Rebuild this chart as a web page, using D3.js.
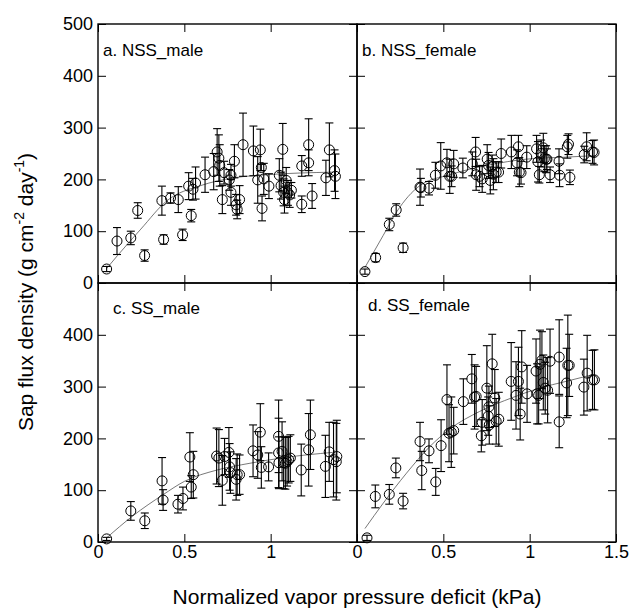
<!DOCTYPE html>
<html>
<head>
<meta charset="utf-8">
<script src="https://cdn.jsdelivr.net/npm/d3@7"></script>
<style>
  body { margin: 0; background: #fff; }
  svg { display: block; font-family: "Liberation Sans", Arial, Helvetica, sans-serif; }
</style>
</head>
<body>
<svg id="drawing_region"></svg>
<script>
// ticks
const xTicks = [0, 0.5, 1, 1.5];
const yTicks = [0, 100, 200, 300, 400, 500];

// panel names
const panelNames = ["a. NSS_male", "b. NSS_female", "c. SS_male", "d. SS_female"];

// [vpd, sap flux, sd]
const nssMale = [
    [0.05,27,5],[0.11,81,26],[0.19,87,13],[0.23,140,15],[0.27,53,11],[0.37,159,28],
    [0.38,84,9],[0.42,164,10],[0.465,161,25],[0.49,93,11],[0.525,187,26],[0.54,130,12],
    [0.55,181,21],[0.565,193,31],[0.62,209,34],[0.67,215,35],[0.69,253,45],[0.70,241,45],
    [0.705,227,40],[0.72,161,27],[0.73,213,22],[0.76,199,20],[0.77,208,21],[0.77,175,25],
    [0.79,235,32],[0.80,151,20],[0.806,142,18],[0.82,161,27],[0.84,267,61],[0.90,255,48],
    [0.925,199,45],[0.94,257,40],[0.946,223,6],[0.95,144,24],[0.96,201,30],[0.99,187,24],
    [1.05,208,32],[1.06,188,26],[1.07,258,50],[1.075,175,26],[1.08,161,26],[1.09,198,25],
    [1.10,174,24],[1.11,170,24],[1.12,179,15],[1.18,226,20],[1.18,152,16],[1.22,267,50],
    [1.22,232,25],[1.24,168,24],[1.32,203,34],[1.34,257,52],[1.37,217,40],[1.375,206,43]
];
const nssFemale = [
    [0.046,22,5],[0.108,49,8],[0.187,113,12],[0.227,141,12],[0.267,68,9],[0.365,185,35],
    [0.37,184,18],[0.417,183,13],[0.454,208,25],[0.485,226,45],[0.521,232,26],[0.537,206,33],
    [0.548,206,20],[0.56,230,26],[0.613,222,19],[0.668,230,23],[0.687,253,28],[0.69,209,30],
    [0.71,206,20],[0.725,201,26],[0.754,239,28],[0.762,227,25],[0.772,198,26],[0.783,225,22],
    [0.79,210,30],[0.806,214,20],[0.82,214,20],[0.835,250,28],[0.894,253,32],[0.927,232,25],
    [0.935,263,22],[0.94,214,28],[0.95,213,22],[0.983,243,22],[1.04,259,26],[1.048,234,39],
    [1.056,209,16],[1.066,250,26],[1.079,261,28],[1.085,240,25],[1.095,239,26],[1.10,239,20],
    [1.118,209,15],[1.17,235,24],[1.173,208,22],[1.218,263,22],[1.225,268,20],[1.233,204,14],
    [1.316,248,16],[1.33,263,27],[1.364,253,22],[1.373,252,24]
];
const ssMale = [
    [0.05,6,3],[0.19,60,18],[0.271,41,15],[0.371,118,45],[0.377,81,20],[0.463,73,17],
    [0.492,84,22],[0.532,164,47],[0.54,106,22],[0.552,130,45],[0.687,166,54],[0.70,162,55],
    [0.72,119,48],[0.733,165,35],[0.758,173,48],[0.762,145,45],[0.767,134,40],[0.80,121,40],
    [0.806,130,40],[0.82,130,38],[0.898,176,50],[0.925,168,45],[0.94,212,55],[0.946,144,40],
    [0.988,145,27],[1.046,204,70],[1.046,172,67],[1.048,153,50],[1.066,175,57],[1.075,153,50],
    [1.085,152,50],[1.095,155,47],[1.104,159,45],[1.114,162,45],[1.177,139,50],[1.22,178,70],
    [1.23,207,67],[1.317,146,60],[1.339,174,57],[1.364,159,72],[1.38,155,74],[1.383,165,70]
];
const ssFemale = [
    [0.058,8,5],[0.106,88,22],[0.187,92,19],[0.225,143,19],[0.267,79,15],[0.365,194,37],
    [0.375,138,37],[0.417,176,23],[0.456,116,26],[0.487,186,50],[0.521,275,67],[0.533,210,55],
    [0.546,212,68],[0.56,215,45],[0.616,271,44],[0.665,315,47],[0.681,280,62],[0.69,281,58],
    [0.72,205,31],[0.725,231,44],[0.752,297,82],[0.76,243,37],[0.764,261,40],[0.766,226,37],
    [0.783,344,57],[0.798,278,55],[0.806,233,44],[0.821,237,52],[0.893,310,75],[0.921,283,65],
    [0.935,310,66],[0.945,247,50],[0.954,338,70],[0.985,286,55],[1.037,330,62],[1.043,286,58],
    [1.052,283,55],[1.06,343,66],[1.071,351,55],[1.079,308,53],[1.09,297,50],[1.104,293,63],
    [1.118,349,62],[1.171,357,72],[1.171,232,50],[1.214,307,67],[1.221,341,97],[1.229,341,60],
    [1.314,299,54],[1.333,326,73],[1.364,313,57],[1.375,313,58]
];

// fitted curves
const nssMaleFit = [[0.05,28],[0.113,53],[0.248,104],[0.40,159],[0.594,188],[0.787,203],[0.979,209],[1.364,214]];
const nssFemaleFit = [[0.046,30],[0.152,92],[0.229,137],[0.364,188],[0.537,209],[0.767,228],[0.979,239],[1.21,243],[1.383,246]];
const ssMaleFit = [[0.05,8],[0.2,50],[0.38,92],[0.5,117],[0.69,139],[0.88,152],[1.08,163],[1.36,173]];
const ssFemaleFit = [[0.046,26],[0.152,75],[0.287,133],[0.421,184],[0.537,218],[0.71,252],[0.902,279],[1.056,297],[1.21,310],[1.364,323]];

const svg = d3.select('#drawing_region')
    .attr('width', 631)
    .attr('height', 608);

class Panel {

    constructor( config, data, fit ) {
        this.config = config;
        this.data = data;
        this.fit = fit;
        this.init();
    }

    init() {
        let self = this;
        const c = self.config;

        self.chart = svg.append('g')
            .attr('transform', `translate(${c.left}, ${c.top})`);

        self.xscale = d3.scaleLinear()
            .domain([0, 1.5])
            .range([0, c.size]);

        self.yscale = d3.scaleLinear()
            .domain([0, 500])
            .range([c.size, 0]);
    }

    render() {
        let self = this;
        const c = self.config;
        const xs = self.xscale, ys = self.yscale;

        // inward ticks on all four sides
        const left = self.chart.append('g')
            .call(d3.axisLeft(ys).tickValues(yTicks).tickSize(-8).tickPadding(5)
                .tickFormat(d => c.yLabels && !(c.skipTop && d === 500) ? d : ''));
        self.chart.append('g')
            .attr('transform', `translate(${c.size},0)`)
            .call(d3.axisRight(ys).tickValues(yTicks).tickSize(-8).tickFormat(''));
        self.chart.append('g')
            .call(d3.axisTop(xs).tickValues(xTicks).tickSize(-8).tickFormat(''));
        const bottom = self.chart.append('g')
            .attr('transform', `translate(0,${c.size})`)
            .call(d3.axisBottom(xs).tickValues(xTicks).tickSize(-8).tickPadding(3)
                .tickFormat(d => c.xLabels && !(c.skipEnd && d === 1.5) ? d : ''));

        self.chart.selectAll('.domain').remove();
        self.chart.selectAll('.tick line').attr('stroke', '#000').attr('stroke-width', 1);
        self.chart.selectAll('.tick text')
            .attr('fill', '#000')
            .attr('font-size', 18)
            .attr('font-family', '"Liberation Sans", Arial, sans-serif');

        // frame
        self.chart.append('rect')
            .attr('width', c.size)
            .attr('height', c.size)
            .attr('fill', 'none')
            .attr('stroke', '#000')
            .attr('stroke-width', 1.4);

        // panel label
        self.chart.append('text')
            .attr('x', c.labelDx)
            .attr('y', c.labelDy)
            .attr('font-size', 17)
            .attr('fill', '#000')
            .text(c.name);

        // fitted curve
        const line = d3.line()
            .x(d => xs(d[0]))
            .y(d => ys(d[1]))
            .curve(d3.curveMonotoneX);

        self.chart.append('path')
            .datum(self.fit)
            .attr('d', line)
            .attr('fill', 'none')
            .attr('stroke', '#555')
            .attr('stroke-width', 0.8);

        // error bars
        const bars = self.chart.append('g')
            .attr('stroke', '#000')
            .attr('stroke-width', 1.1);

        bars.selectAll('.bar')
            .data(self.data)
            .enter()
            .append('line')
            .attr('x1', d => xs(d[0]))
            .attr('x2', d => xs(d[0]))
            .attr('y1', d => ys(d[1] - d[2]))
            .attr('y2', d => ys(d[1] + d[2]));

        [-1, 1].forEach(s => {
            bars.selectAll('.cap' + s)
                .data(self.data)
                .enter()
                .append('line')
                .attr('x1', d => xs(d[0]) - 4)
                .attr('x2', d => xs(d[0]) + 4)
                .attr('y1', d => ys(d[1] + s * d[2]))
                .attr('y2', d => ys(d[1] + s * d[2]));
        });

        // points
        self.chart.append('g')
            .selectAll('circle')
            .data(self.data)
            .enter()
            .append('circle')
            .attr('cx', d => xs(d[0]))
            .attr('cy', d => ys(d[1]))
            .attr('r', 5)
            .attr('fill', 'none')
            .attr('stroke', '#000')
            .attr('stroke-width', 1);
    }
}

const size = 259;
const panels = [
    { name: panelNames[0], left: 98, top: 24, size: size, yLabels: true, xLabels: false, skipTop: false, labelDx: 5, labelDy: 32 },
    { name: panelNames[1], left: 98 + size, top: 24, size: size, yLabels: false, xLabels: false, labelDx: 5, labelDy: 32 },
    { name: panelNames[2], left: 98, top: 24 + size, size: size, yLabels: true, xLabels: true, skipTop: true, skipEnd: true, labelDx: 15, labelDy: 31 },
    { name: panelNames[3], left: 98 + size, top: 24 + size, size: size, yLabels: false, xLabels: true, skipEnd: false, labelDx: 11, labelDy: 28 }
];
const sets = [nssMale, nssFemale, ssMale, ssFemale];
const fits = [nssMaleFit, nssFemaleFit, ssMaleFit, ssFemaleFit];

panels.forEach((p, i) => {
    const panel = new Panel(p, sets[i], fits[i]);
    panel.render();
});

// axis titles
svg.append('text')
    .attr('x', 357)
    .attr('y', 604)
    .attr('text-anchor', 'middle')
    .attr('font-size', 21)
    .attr('fill', '#000')
    .text('Normalized vapor pressure deficit (kPa)');

const ytitle = svg.append('text')
    .attr('transform', 'translate(33,292) rotate(-90)')
    .attr('text-anchor', 'middle')
    .attr('font-size', 21)
    .attr('fill', '#000');
ytitle.append('tspan').text('Sap flux density (g cm');
ytitle.append('tspan').attr('font-size', 14).attr('dy', -9).text('-2');
ytitle.append('tspan').attr('dy', 9).text(' day');
ytitle.append('tspan').attr('font-size', 14).attr('dy', -9).text('-1');
ytitle.append('tspan').attr('dy', 9).text(')');
</script>
</body>
</html>
